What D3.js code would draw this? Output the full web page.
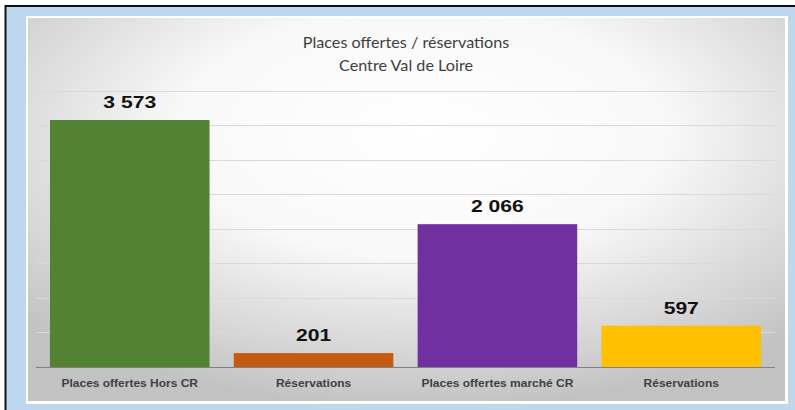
<!DOCTYPE html>
<html>
<head>
<meta charset="utf-8">
<script src="https://cdn.jsdelivr.net/npm/d3@7"></script>
<style>
  html, body { margin: 0; padding: 0; background: #fff; }
  svg { display: block; }
</style>
</head>
<body>
<svg id="chart" width="795" height="410"></svg>
<script>
// data
const categories = ["Places offertes Hors CR", "Réservations", "Places offertes marché CR", "Réservations"];
const values = [3573, 201, 2066, 597];
const colors = ["#548235", "#c55a11", "#7030a0", "#ffc000"];
const yTicks = [0, 500, 1000, 1500, 2000, 2500, 3000, 3500, 4000];
const titleLines = ["Places offertes / réservations", "Centre Val de Loire"];

const width = 795, height = 410;
const plot = { left: 36, right: 775, top: 90.5, bottom: 367 };

const svg = d3.select("#chart");

// frame: black edge, light blue mat, white rule, grey gradient panel
svg.append("rect").attr("x", 0).attr("y", 0).attr("width", width).attr("height", height).attr("fill", "#fff");
svg.append("rect").attr("x", 6).attr("y", 7).attr("width", width - 6).attr("height", height - 7).attr("fill", "#bdd7ee");
svg.append("line").attr("x1", 5.5).attr("x2", 5.5).attr("y1", 5).attr("y2", height).attr("stroke", "#111").attr("stroke-width", 2);
svg.append("line").attr("x1", 5).attr("x2", width).attr("y1", 6).attr("y2", 6).attr("stroke", "#111").attr("stroke-width", 2);

const defs = svg.append("defs");
const grad = defs.append("radialGradient").attr("id", "panelGrad")
  .attr("cx", "52%").attr("cy", "30%").attr("r", "72%");
grad.append("stop").attr("offset", "0%").attr("stop-color", "#ffffff");
grad.append("stop").attr("offset", "45%").attr("stop-color", "#f8f8f8");
grad.append("stop").attr("offset", "100%").attr("stop-color", "#c2c2c2");

svg.append("rect").attr("x", 26).attr("y", 16).attr("width", 762).attr("height", 388).attr("fill", "#ffffff");
svg.append("rect").attr("x", 28).attr("y", 18).attr("width", 757).attr("height", 383).attr("fill", "url(#panelGrad)");

// scales
const x = d3.scaleBand()
  .domain(d3.range(categories.length))
  .range([plot.left, plot.right])
  .paddingInner(0.132)
  .paddingOuter(0.076);

const y = d3.scaleLinear()
  .domain([0, 4000])
  .range([plot.bottom, plot.top]);

// gridlines
svg.append("g")
  .selectAll("line")
  .data(yTicks.filter(d => d > 0))
  .join("line")
  .attr("x1", plot.left).attr("x2", plot.right)
  .attr("y1", d => Math.round(y(d)) + 0.5).attr("y2", d => Math.round(y(d)) + 0.5)
  .attr("stroke", "#d9d9d9").attr("stroke-width", 1);

// bars
svg.append("g")
  .selectAll("rect")
  .data(values)
  .join("rect")
  .attr("x", (d, i) => x(i))
  .attr("y", d => y(d))
  .attr("width", x.bandwidth())
  .attr("height", d => y(0) - y(d))
  .attr("fill", (d, i) => colors[i]);

// baseline
svg.append("line")
  .attr("x1", plot.left).attr("x2", plot.right)
  .attr("y1", Math.round(y(0)) + 0.5).attr("y2", Math.round(y(0)) + 0.5)
  .attr("stroke", "#808080").attr("stroke-width", 1);

// value labels ("3 573" style, space as thousands separator)
const fr = d3.formatLocale({ decimal: ",", thousands: " ", grouping: [3], currency: ["", " €"] });
const fmt = fr.format(",d");

svg.append("g")
  .selectAll("text")
  .data(values)
  .join("text")
  .attr("transform", (d, i) => `translate(${x(i) + x.bandwidth() / 2},${y(d) - 12}) scale(1.28,1)`)
  .attr("text-anchor", "middle")
  .attr("font-family", "'Liberation Sans', Arial, sans-serif")
  .attr("font-weight", "bold")
  .attr("font-size", 16.5)
  .attr("fill", "#111")
  .text(d => fmt(d));

// category labels
svg.append("g")
  .selectAll("text")
  .data(categories)
  .join("text")
  .attr("transform", (d, i) => `translate(${x(i) + x.bandwidth() / 2},387) scale(1.2,1)`)
  .attr("text-anchor", "middle")
  .attr("font-family", "'Liberation Sans', Arial, sans-serif")
  .attr("font-weight", "bold")
  .attr("font-size", 10)
  .attr("fill", "#404040")
  .text(d => d);

// title
svg.append("g")
  .selectAll("text")
  .data(titleLines)
  .join("text")
  .attr("x", 406)
  .attr("y", (d, i) => 47.5 + i * 23.5)
  .attr("text-anchor", "middle")
  .attr("font-family", "Lato, 'Open Sans', sans-serif")
  .attr("font-size", 16.2)
  .attr("fill", "#404040")
  .text(d => d);
</script>
</body>
</html>
